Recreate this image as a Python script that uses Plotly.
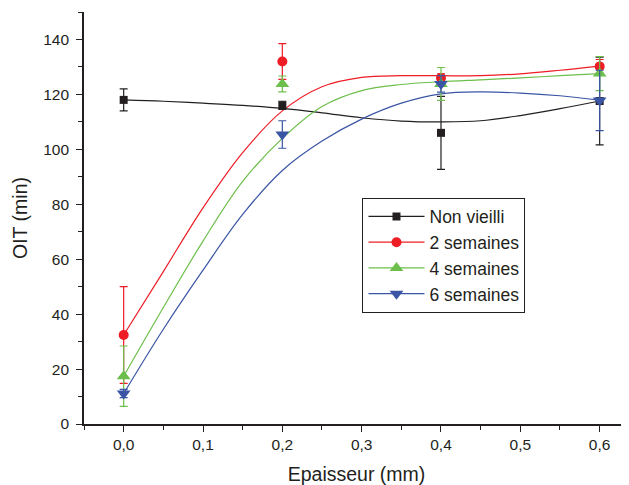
import plotly.graph_objects as go

# ---- data points ----
epaisseur = [0.0, 0.2, 0.4, 0.6]
series_names = ["Non vieilli", "2 semaines", "4 semaines", "6 semaines"]

oit_non_vieilli = [118.0, 116.0, 106.0, 117.6]
err_non_vieilli = [4.0, 1.5, 13.3, 16.0]

oit_2_sem = [32.4, 132.0, 126.0, 130.2]
err_2_sem = [17.6, 6.5, 1.5, 2.5]

oit_4_sem = [17.4, 123.8, 123.8, 127.6]
err_4_sem = [11.0, 2.9, 6.0, 6.2]

oit_6_sem = [11.1, 105.4, 123.8, 117.8]
err_6_sem = [1.5, 5.0, 3.0, 11.0]

# ---- smoothed curves ----
curve_x = [0.0, 0.05, 0.1, 0.15, 0.2, 0.25, 0.3, 0.35, 0.4, 0.45, 0.5, 0.55, 0.6]
curve_non_vieilli = [118.0, 117.5, 116.8, 116.0, 114.9, 113.3, 111.5, 110.3, 110.0, 110.4, 112.3, 114.8, 117.6]
curve_2_sem = [32.4, 55.5, 78.7, 98.8, 114.0, 122.8, 126.2, 126.8, 126.8, 126.8, 127.5, 128.8, 130.3]
curve_4_sem = [17.4, 42.4, 66.6, 88.3, 104.0, 115.6, 121.4, 123.6, 124.6, 125.3, 126.0, 126.8, 127.6]
curve_6_sem = [11.1, 34.5, 56.0, 76.3, 92.3, 103.0, 111.0, 116.8, 120.2, 120.9, 120.5, 119.5, 117.9]

x_tickvals = [0.0, 0.1, 0.2, 0.3, 0.4, 0.5, 0.6]
x_ticktext = ["0,0", "0,1", "0,2", "0,3", "0,4", "0,5", "0,6"]
y_tickvals = [0, 20, 40, 60, 80, 100, 120, 140]

colors = ["#231f20", "#ee1c25", "#6cbf4a", "#3a55a4"]
symbols = ["square", "circle", "triangle-up", "triangle-down"]
msizes = [8, 10, 12, 12]

values = [oit_non_vieilli, oit_2_sem, oit_4_sem, oit_6_sem]
errors = [err_non_vieilli, err_2_sem, err_4_sem, err_6_sem]
curves = [curve_non_vieilli, curve_2_sem, curve_4_sem, curve_6_sem]

FONT = "Liberation Sans, Arial"
INK = "#231f20"

fig = go.Figure()

for name, c, cy in zip(series_names, colors, curves):
    fig.add_trace(go.Scatter(x=curve_x, y=cy, mode="lines",
                             line=dict(color=c, width=1.2, shape="spline", smoothing=1.0),
                             showlegend=False, hoverinfo="skip"))

for name, c, s, ms, v, e in zip(series_names, colors, symbols, msizes, values, errors):
    fig.add_trace(go.Scatter(x=epaisseur, y=v, mode="markers",
                             marker=dict(color=c, symbol=s, size=ms, line=dict(width=0)),
                             error_y=dict(type="data", array=e, visible=True, color=c,
                                          thickness=1.2, width=4),
                             showlegend=False))

# legend entries
for name, c, s, ms in zip(series_names, colors, symbols, msizes):
    fig.add_trace(go.Scatter(x=[None], y=[None], mode="lines+markers", name=name,
                             line=dict(color=c, width=1.2),
                             marker=dict(color=c, symbol=s, size=ms, line=dict(width=0))))

axis_common = dict(
    showline=True, linecolor=INK, linewidth=1.6,
    ticks="outside", ticklen=6, tickwidth=1.2, tickcolor=INK,
    showgrid=False, zeroline=False, mirror=False,
    tickfont=dict(family=FONT, size=15.5, color=INK),
)

fig.update_xaxes(
    range=[-0.05, 0.637], tickvals=x_tickvals, ticktext=x_ticktext,
    minor=dict(dtick=0.05, tick0=0, ticks="outside", ticklen=4, tickcolor=INK, tickwidth=1.2),
    title=dict(text="Epaisseur (mm)", font=dict(family=FONT, size=19.5, color=INK), standoff=15),
    **axis_common)
fig.update_yaxes(
    range=[0, 150], tickvals=y_tickvals, ticklabelstandoff=4,
    minor=dict(dtick=10, tick0=0, ticks="outside", ticklen=4, tickcolor=INK, tickwidth=1.2),
    title=dict(text="OIT (min)", font=dict(family=FONT, size=19.5, color=INK), standoff=10),
    **axis_common)

fig.update_layout(
    width=621, height=477,
    margin=dict(l=76, r=0, t=4, b=61),
    plot_bgcolor="white", paper_bgcolor="white",
    legend=dict(x=0.511, y=0.41, xanchor="left", yanchor="middle",
                bordercolor=INK, borderwidth=1, bgcolor="white",
                font=dict(family=FONT, size=17.5, color=INK),
                tracegroupgap=0, itemwidth=56),
)

fig.write_html("out.html")
